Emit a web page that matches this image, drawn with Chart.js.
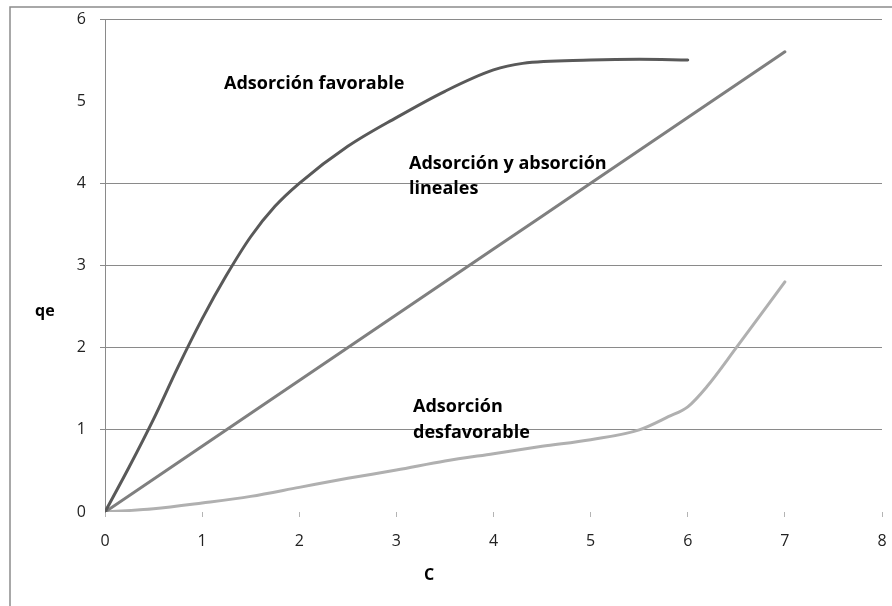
<!DOCTYPE html>
<html>
<head>
<meta charset="utf-8">
<script src="https://cdn.jsdelivr.net/npm/chart.js@4.4.1/dist/chart.umd.min.js"></script>
<style>
  html, body { margin: 0; padding: 0; background: #ffffff; }
  #wrap { width: 892px; height: 606px; }
</style>
</head>
<body>
<div id="wrap"><canvas id="c" width="892" height="606"></canvas></div>
<script>
// ---- Data ----
const favorableC = [0, 0.25, 0.5, 0.75, 1, 1.25, 1.5, 1.75, 2, 2.5, 3, 3.5, 4, 4.3, 5, 5.5, 6];
const favorableQ = [0, 0.55, 1.13, 1.76, 2.35, 2.88, 3.35, 3.72, 4.0, 4.45, 4.8, 5.12, 5.38, 5.46, 5.5, 5.51, 5.5];

const linealC = [0, 1, 2, 3, 4, 5, 6, 7];
const linealQ = [0, 0.8, 1.6, 2.4, 3.2, 4.0, 4.8, 5.6];

const desfavC = [0, 0.5, 1, 1.5, 2, 2.5, 3, 3.5, 4, 4.5, 5, 5.5, 5.8, 6, 6.2, 6.5, 7];
const desfavQ = [0, 0.04, 0.11, 0.19, 0.3, 0.41, 0.51, 0.62, 0.71, 0.8, 0.88, 1.0, 1.16, 1.28, 1.53, 2.0, 2.8];

const xTicks = [0, 1, 2, 3, 4, 5, 6, 7, 8];
const yTicks = [0, 1, 2, 3, 4, 5, 6];

const seriesLabels = ["Adsorción favorable", "Adsorción y absorción lineales", "Adsorción desfavorable"];
const xTitle = "C";
const yTitle = "qe";

function pts(xs, ys) { return xs.map((x, i) => ({ x: x, y: ys[i] })); }

const FONT = "'Open Sans', 'DejaVu Sans', sans-serif";

const decor = {
  id: 'decor',
  afterDraw(chart) {
    const ctx = chart.ctx;
    ctx.save();
    // outer frame (top and left)
    ctx.strokeStyle = '#8c8c8c';
    ctx.lineWidth = 1.5;
    ctx.beginPath();
    ctx.moveTo(10, 606);
    ctx.lineTo(10, 7);
    ctx.lineTo(892, 7);
    ctx.stroke();

    ctx.fillStyle = '#000000';
    ctx.font = 'bold 18px ' + FONT;
    ctx.textBaseline = 'alphabetic';
    ctx.textAlign = 'left';
    ctx.fillText("Adsorción favorable", 224, 89);
    ctx.fillText("Adsorción y absorción", 409, 169);
    ctx.fillText("lineales", 409, 194);
    ctx.fillText("Adsorción", 413, 412);
    ctx.fillText("desfavorable", 413, 438);

    // axis titles
    ctx.font = 'bold 16px ' + FONT;
    ctx.textAlign = 'center';
    ctx.fillText(xTitle, 429, 580);
    ctx.textAlign = 'left';
    ctx.fillText(yTitle, 35, 316);
    ctx.restore();
  }
};

new Chart(document.getElementById('c'), {
  type: 'line',
  data: {
    datasets: [
      { label: seriesLabels[0], data: pts(favorableC, favorableQ), borderColor: '#595959', borderWidth: 3 },
      { label: seriesLabels[1], data: pts(linealC, linealQ), borderColor: '#7f7f7f', borderWidth: 3 },
      { label: seriesLabels[2], data: pts(desfavC, desfavQ), borderColor: '#b0b0b0', borderWidth: 3 }
    ]
  },
  options: {
    responsive: false,
    animation: false,
    devicePixelRatio: 1,
    layout: { padding: { top: 19, right: 10, left: 0, bottom: 0 } },
    elements: {
      point: { radius: 0 },
      line: { tension: 0.4, cubicInterpolationMode: 'monotone', fill: false, borderCapStyle: 'round' }
    },
    plugins: { legend: { display: false }, tooltip: { enabled: false }, title: { display: false } },
    scales: {
      x: {
        type: 'linear',
        min: 0, max: 8,
        afterBuildTicks(axis) { axis.ticks = xTicks.map(v => ({ value: v })); },
        afterFit(axis) { axis.height = 94; axis.paddingLeft = 0; axis.paddingRight = 0; },
        grid: { drawOnChartArea: false, drawTicks: true, tickLength: 5, tickColor: '#b4b4b4' },
        border: { display: false },
        ticks: { padding: 15, color: '#222222', font: { family: FONT, size: 16 } }
      },
      y: {
        type: 'linear',
        min: 0, max: 6,
        afterBuildTicks(axis) { axis.ticks = yTicks.map(v => ({ value: v })); },
        afterFit(axis) { axis.width = 105; axis.paddingTop = 0; axis.paddingBottom = 0; },
        grid: {
          color: (c) => (c.tick && (c.tick.value === 0 || c.tick.value === 5)) ? 'rgba(0,0,0,0)' : '#8a8a8a',
          lineWidth: 1,
          tickLength: 5
        },
        border: { display: true, color: '#8a8a8a', width: 1 },
        ticks: { padding: 14, color: '#222222', font: { family: FONT, size: 16 } }
      }
    }
  },
  plugins: [decor]
});
</script>
</body>
</html>
